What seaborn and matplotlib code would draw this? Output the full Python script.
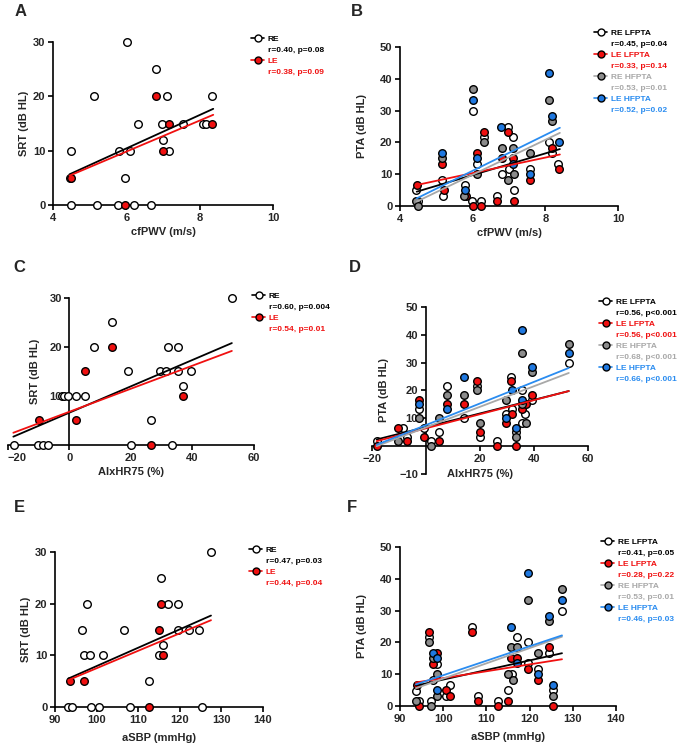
import matplotlib
matplotlib.use("Agg")
import matplotlib.pyplot as plt
from matplotlib.lines import Line2D
import seaborn as sns

sns.set_style("ticks")
plt.rcParams["font.family"] = ["Liberation Sans", "DejaVu Sans"]
plt.rcParams["font.weight"] = "bold"
plt.rcParams["axes.labelweight"] = "bold"

W, H = 679, 746

# ---- panel A: SRT vs cfPWV
a_re_x = [4.45, 4.48, 4.48, 5.12, 5.19, 5.76, 5.81, 5.97, 6.02, 6.11, 6.22, 6.31, 6.67, 6.80, 6.96, 7.01, 7.10, 7.17, 7.54, 8.09, 8.17, 8.35]
a_re_y = [5, 10, 0, 20, 0, 0, 10, 5, 30, 10, 0, 15, 0, 25, 15, 12, 20, 10, 15, 15, 15, 20]
a_le_x = [4.50, 5.97, 6.80, 7.01, 7.17, 8.35]
a_le_y = [5, 0, 20, 10, 15, 15]
a_fit = {"RE": [4.45, 5.65, 8.37, 17.7], "LE": [4.45, 5.4, 8.37, 16.6]}
a_stats = ["r=0.40, p=0.08", "r=0.38, p=0.09"]

# ---- panel B: PTA vs cfPWV
b_re_lf_x = [4.45, 4.50, 5.15, 5.17, 5.80, 6.00, 5.97, 6.11, 6.22, 6.31, 6.66, 6.81, 6.96, 7.00, 7.10, 7.15, 7.57, 8.10, 8.17, 8.35]
b_re_lf_y = [5, 1.7, 8.3, 3.3, 6.7, 30, 1.7, 13.3, 1.7, 21.7, 3.3, 10, 25, 11.7, 21.7, 5, 11.7, 20, 16.7, 13.3]
b_le_lf_x = [4.46, 5.15, 5.20, 5.83, 6.00, 6.11, 6.22, 6.31, 6.66, 6.81, 6.96, 7.10, 7.15, 7.57, 8.17, 8.37]
b_le_lf_y = [6.7, 13.3, 5, 3.3, 0, 16.7, 0, 23.3, 1.7, 15, 23.3, 15, 1.7, 8.3, 18.3, 11.7]
b_re_hf_x = [4.44, 4.50, 5.15, 5.75, 6.00, 6.11, 6.31, 6.81, 6.98, 7.10, 7.15, 7.57, 8.10, 8.17]
b_re_hf_y = [1.7, 0, 15, 3.3, 36.7, 10, 20, 18.3, 8.3, 18.3, 10, 16.7, 33.3, 26.7]
b_le_hf_x = [5.15, 5.80, 6.00, 6.11, 6.79, 7.10, 7.57, 8.10, 8.17, 8.37]
b_le_hf_y = [16.7, 5, 33.3, 15, 25, 13.3, 10, 41.7, 28.3, 20]
b_fit = {"RE LFPTA": [4.46, 4.5, 8.4, 17.9], "LE LFPTA": [4.46, 6.6, 8.4, 16.2],
         "RE HFPTA": [4.46, 1.4, 8.4, 23.0], "LE HFPTA": [4.46, 2.4, 8.4, 24.6]}
b_stats = ["r=0.45, p=0.04", "r=0.33, p=0.14", "r=0.53, p=0.01", "r=0.52, p=0.02"]

# ---- panel C: SRT vs AIxHR75
c_re_x = [-17.9, -10.1, -8.4, -6.8, -2.5, -1.7, -0.3, 2.1, 5.1, 8.0, 14.0, 18.9, 20.0, 26.4, 29.5, 31.3, 31.9, 33.3, 35.4, 35.4, 36.8, 39.4, 52.8]
c_re_y = [0, 0, 0, 0, 10, 10, 10, 10, 10, 20, 25, 15, 0, 5, 15, 15, 20, 0, 20, 15, 12, 15, 30]
c_le_x = [-9.8, 2.1, 5.1, 14.0, 26.4, 36.8]
c_le_y = [5, 5, 15, 20, 0, 10]
c_fit = {"RE": [-18.2, 1.7, 52.8, 20.8], "LE": [-18.2, 2.5, 52.8, 19.2]}
c_stats = ["r=0.60, p=0.004", "r=0.54, p=0.01"]

# ---- panel D: PTA vs AIxHR75
d_re_lf_x = [-18.1, -8.5, -6.8, -2.5, -0.8, 1.8, 4.9, 7.9, 14.0, 18.8, 19.9, 26.4, 29.5, 31.3, 31.9, 33.3, 35.4, 35.4, 36.8, 39.4, 52.8]
d_re_lf_y = [1.7, 6.7, 3.3, 13.3, 6.7, 1.7, 5, 21.7, 10, 21.7, 3.3, 1.7, 11.7, 25, 13.3, 5, 20, 8.3, 11.7, 16.7, 30]
d_le_lf_x = [-18.1, -10.1, -6.8, -2.5, -0.8, 4.9, 7.9, 14.0, 18.8, 19.9, 26.4, 29.5, 31.3, 31.9, 33.3, 35.4, 37.0, 39.4]
d_le_lf_y = [0, 6.7, 1.7, 16.7, 3.3, 1.7, 15, 15, 23.3, 5, 0, 8.3, 23.3, 11.7, 0, 13.3, 15, 18.3]
d_re_hf_x = [-10.1, -2.5, 1.8, 4.9, 7.9, 14.0, 18.8, 19.9, 29.5, 33.3, 35.4, 35.4, 37.0, 39.4, 52.8]
d_re_hf_y = [1.7, 10, 0, 10, 18.3, 18.3, 20, 8.3, 16.7, 3.3, 33.3, 15, 8.3, 26.7, 36.7]
d_le_hf_x = [-2.5, 7.9, 14.0, 29.5, 31.9, 33.3, 35.4, 35.4, 39.4, 52.8]
d_le_hf_y = [15, 13.3, 25, 10, 20, 6.7, 41.7, 16.7, 28.3, 33.3]
d_fit = {"RE LFPTA": [-18.1, 2.4, 52.8, 19.8], "LE LFPTA": [-18.1, 1.8, 52.8, 19.8],
         "RE HFPTA": [-18.1, 0.0, 52.8, 26.3], "LE HFPTA": [-18.1, 0.5, 52.8, 28.1]}
d_stats = ["r=0.56, p<0.001", "r=0.56, p<0.001", "r=0.68, p<0.001", "r=0.66, p<0.001"]

# ---- panel E: SRT vs aSBP
e_re_x = [93.2, 94.0, 96.6, 97.0, 97.6, 98.5, 98.6, 100.5, 101.6, 106.6, 108.0, 112.5, 114.9, 115.6, 116.0, 117.1, 119.5, 119.5, 122.1, 124.6, 125.4, 127.5]
e_re_y = [0, 0, 15, 10, 20, 10, 0, 0, 10, 15, 0, 5, 10, 25, 12, 20, 20, 15, 15, 15, 0, 30]
e_le_x = [93.5, 97.0, 112.5, 114.9, 115.6, 116.0]
e_le_y = [5, 5, 0, 15, 20, 10]
e_fit = {"RE": [93.2, 5.5, 127.5, 17.7], "LE": [93.2, 5.2, 127.5, 16.8]}
e_stats = ["r=0.47, p=0.03", "r=0.44, p=0.04"]

# ---- panel F: PTA vs aSBP
f_re_lf_x = [93.7, 94.3, 96.7, 97.1, 97.7, 98.6, 100.6, 101.6, 106.7, 108.1, 112.7, 115.1, 116.0, 117.1, 119.6, 119.6, 122.0, 124.5, 125.5, 127.5]
f_re_lf_y = [4.7, 1.6, 21.8, 1.6, 8.2, 13.2, 3.3, 6.6, 24.8, 3.3, 1.6, 5, 10, 21.8, 20, 13.4, 11.7, 16.6, 5, 30]
f_le_lf_x = [93.9, 94.3, 96.7, 97.7, 98.6, 100.6, 101.6, 106.7, 108.1, 112.7, 115.1, 115.7, 117.1, 119.6, 122.0, 124.5, 125.5]
f_le_lf_y = [6.6, 0, 23.4, 13.2, 16.6, 5, 3.3, 23.2, 1.6, 0, 1.6, 15, 15, 11.6, 8.2, 18.4, 0]
f_re_hf_x = [93.7, 96.7, 97.1, 97.7, 98.6, 98.6, 115.1, 115.7, 116.2, 117.1, 119.6, 122.0, 124.5, 125.5, 127.5]
f_re_hf_y = [1.6, 20, 0, 15, 10, 3.3, 10, 18.7, 8.2, 18.7, 33.4, 16.6, 26.6, 3.3, 36.8]
f_le_hf_x = [97.7, 98.6, 98.6, 115.7, 117.1, 119.6, 122.0, 124.5, 125.5, 127.5]
f_le_hf_y = [16.6, 15, 5, 25, 13.4, 41.8, 10, 28.4, 6.6, 33.4]
f_fit = {"RE LFPTA": [93.7, 6.4, 127.5, 16.6], "LE LFPTA": [93.7, 7.4, 127.5, 14.7],
         "RE HFPTA": [93.7, 5.6, 127.5, 21.8], "LE HFPTA": [93.7, 6.8, 127.5, 22.2]}
f_stats = ["r=0.41, p=0.05", "r=0.28, p=0.22", "r=0.53, p=0.01", "r=0.46, p=0.03"]

# fill, line colour, text colour for each series
style = {
    "RE": ("white", "black", "black"),
    "LE": ("#f01010", "#f01010", "#f01010"),
    "RE LFPTA": ("white", "black", "black"),
    "LE LFPTA": ("#f01010", "#f01010", "#f01010"),
    "RE HFPTA": ("#8c8c8c", "#a8a8a8", "#a8a8a8"),
    "LE HFPTA": ("#1f78e0", "#2a8cf0", "#2a8cf0"),
}

fig = plt.figure(figsize=(W / 100, H / 100), dpi=100)


def add_ax(left, right, top, bottom):
    return fig.add_axes([left / W, 1 - bottom / H, (right - left) / W, (bottom - top) / H])


def panel(ax, series, fits, stats, xlim, ylim, xticks, yticks, xlabel, ylabel, leg_xy,
          ypad=3, xpad=3):
    for name, xs, ys in series:
        fill = style[name][0]
        sns.scatterplot(x=xs, y=ys, ax=ax, color=fill, edgecolor="black", linewidth=1.0,
                        s=30, clip_on=False, zorder=3, legend=False)
    for name, xs, ys in series:
        x0, y0, x1, y1 = fits[name]
        sns.lineplot(x=[x0, x1], y=[y0, y1], ax=ax, color=style[name][1], lw=1.3,
                     zorder=4, legend=False)
    ax.set_xlim(*xlim)
    ax.set_ylim(*ylim)
    ax.set_xticks(xticks)
    ax.set_yticks(yticks)
    ax.set_xlabel(xlabel, fontsize=8, labelpad=xpad)
    ax.set_ylabel(ylabel, fontsize=8, labelpad=ypad)
    sns.despine(ax=ax)
    for sp in ["left", "bottom"]:
        ax.spines[sp].set_linewidth(1.2)
        ax.spines[sp].set_color("black")
    ax.tick_params(axis="both", labelsize=8, width=1.2, length=3.5, color="black", pad=2)
    for lab in ax.get_xticklabels() + ax.get_yticklabels():
        lab.set_fontweight("bold")

    handles, labels, colors = [], [], []
    for (name, _, _), st in zip(series, stats):
        fill, lc, tc = style[name]
        handles.append(Line2D([0], [0], color=lc, lw=1.2, marker="o", markersize=5,
                              markerfacecolor=fill, markeredgecolor="black", markeredgewidth=1.0))
        labels.append(name)
        colors.append(tc)
        handles.append(Line2D([], [], linestyle="none"))
        labels.append(st)
        colors.append(tc)
    ax.legend(handles, labels, loc="upper left",
              bbox_to_anchor=(leg_xy[0] / W, 1 - leg_xy[1] / H), bbox_transform=fig.transFigure,
              frameon=False, prop={"weight": "bold", "size": 6.0}, labelcolor=colors,
              handlelength=1.6, handletextpad=0.4, labelspacing=0.38, borderpad=0, borderaxespad=0)


axA = add_ax(53, 273, 42, 205)
panel(axA, [("RE", a_re_x, a_re_y), ("LE", a_le_x, a_le_y)], a_fit, a_stats,
      (4, 10), (0, 30), [4, 6, 8, 10], [0, 10, 20, 30], "cfPWV (m/s)", "SRT (dB HL)", (251, 35))

axB = add_ax(400, 618, 47, 206)
panel(axB, [("RE LFPTA", b_re_lf_x, b_re_lf_y), ("LE LFPTA", b_le_lf_x, b_le_lf_y),
            ("RE HFPTA", b_re_hf_x, b_re_hf_y), ("LE HFPTA", b_le_hf_x, b_le_hf_y)],
      b_fit, b_stats, (4, 10), (0, 50), [4, 6, 8, 10], [0, 10, 20, 30, 40, 50],
      "cfPWV (m/s)", "PTA (dB HL)", (594, 29), ypad=9.5)

axC = add_ax(7.8, 254, 298, 445)
panel(axC, [("RE", c_re_x, c_re_y), ("LE", c_le_x, c_le_y)], c_fit, c_stats,
      (-20, 60), (0, 30), [-20, 0, 20, 40, 60], [10, 20, 30], "AIxHR75 (%)", "SRT (dB HL)", (252, 292),
      ypad=6.5)
axC.spines["left"].set_position(("data", 0))
axC.xaxis.get_major_ticks()[0].label1.set_horizontalalignment("left")

axD = add_ax(371.5, 588.3, 307, 474)
panel(axD, [("RE LFPTA", d_re_lf_x, d_re_lf_y), ("LE LFPTA", d_le_lf_x, d_le_lf_y),
            ("RE HFPTA", d_re_hf_x, d_re_hf_y), ("LE HFPTA", d_le_hf_x, d_le_hf_y)],
      d_fit, d_stats, (-20, 60), (-10, 50), [-20, 20, 40, 60], [-10, 10, 20, 30, 40, 50],
      "AIxHR75 (%)", "PTA (dB HL)", (599, 298), ypad=7, xpad=4)
axD.spines["left"].set_position(("data", 0))
axD.spines["bottom"].set_position(("data", 0))

axE = add_ax(55, 263, 552, 707)
panel(axE, [("RE", e_re_x, e_re_y), ("LE", e_le_x, e_le_y)], e_fit, e_stats,
      (90, 140), (0, 30), [90, 100, 110, 120, 130, 140], [0, 10, 20, 30],
      "aSBP (mmHg)", "SRT (dB HL)", (249, 546), xpad=6)

axF = add_ax(400, 616, 547, 706)
panel(axF, [("RE LFPTA", f_re_lf_x, f_re_lf_y), ("LE LFPTA", f_le_lf_x, f_le_lf_y),
            ("RE HFPTA", f_re_hf_x, f_re_hf_y), ("LE HFPTA", f_le_hf_x, f_le_hf_y)],
      f_fit, f_stats, (90, 140), (0, 50), [90, 100, 110, 120, 130, 140], [0, 10, 20, 30, 40, 50],
      "aSBP (mmHg)", "PTA (dB HL)", (601, 538), ypad=9.5, xpad=6)

for letter, x, y in [("A", 21, 11), ("B", 357, 11), ("C", 19, 267),
                     ("D", 355, 267), ("E", 19, 508), ("F", 352, 508)]:
    fig.text(x / W, 1 - y / H, letter, fontsize=12, fontweight="bold", ha="center", va="center")

fig.savefig("out.png", dpi=100)
